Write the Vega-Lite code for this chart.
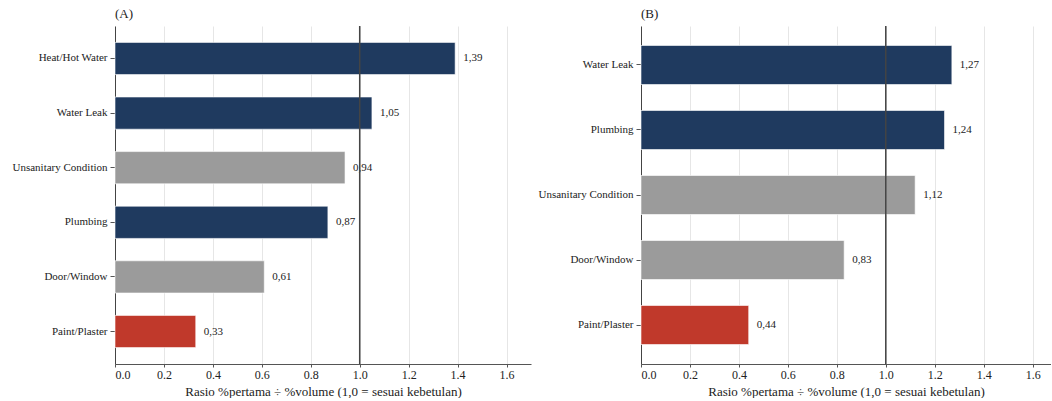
{
  "$schema": "https://vega.github.io/schema/vega-lite/v6.json",
  "padding": {"left": 11, "top": 8, "right": 0, "bottom": 0},
  "background": "white",
  "config": {
    "font": "Liberation Serif",
    "view": {"stroke": null},
    "text": {"font": "Liberation Serif"},
    "axis": {"labelFont": "Liberation Serif", "titleFont": "Liberation Serif", "labelFontSize": 11, "titleFontSize": 13, "labelColor": "#222222", "titleColor": "#222222", "domainColor": "#555555", "tickColor": "#555555", "titleFontWeight": "normal"},
    "title": {"font": "Liberation Serif", "fontSize": 13, "fontWeight": "normal", "anchor": "start", "frame": "bounds", "color": "#222222"},
    "concat": {"spacing": 6}
  },
  "datasets": {
    "a": [
      {"kategori": "Heat/Hot Water", "rasio": 1.39, "label": "1,39", "tipe": "tinggi"},
      {"kategori": "Water Leak", "rasio": 1.05, "label": "1,05", "tipe": "tinggi"},
      {"kategori": "Unsanitary Condition", "rasio": 0.94, "label": "0,94", "tipe": "netral"},
      {"kategori": "Plumbing", "rasio": 0.87, "label": "0,87", "tipe": "tinggi"},
      {"kategori": "Door/Window", "rasio": 0.61, "label": "0,61", "tipe": "netral"},
      {"kategori": "Paint/Plaster", "rasio": 0.33, "label": "0,33", "tipe": "rendah"}
    ],
    "b": [
      {"kategori": "Water Leak", "rasio": 1.27, "label": "1,27", "tipe": "tinggi"},
      {"kategori": "Plumbing", "rasio": 1.24, "label": "1,24", "tipe": "tinggi"},
      {"kategori": "Unsanitary Condition", "rasio": 1.12, "label": "1,12", "tipe": "netral"},
      {"kategori": "Door/Window", "rasio": 0.83, "label": "0,83", "tipe": "netral"},
      {"kategori": "Paint/Plaster", "rasio": 0.44, "label": "0,44", "tipe": "rendah"}
    ],
    "ref": [{"nilai": 1}]
  },
  "hconcat": [
    {
      "title": {"text": "(A)", "offset": 4, "frame": "group"},
      "width": 416,
      "height": 338,
      "layer": [
        {
          "data": {"name": "a"},
          "mark": {"type": "bar", "stroke": "white", "strokeWidth": 0.6},
          "encoding": {
            "y": {"field": "kategori", "type": "nominal", "sort": "-x", "title": null, "scale": {"paddingInner": 0.41, "paddingOuter": 0.3}, "axis": {"minExtent": 100, "maxExtent": 100, "tickSize": 5, "labelPadding": 3, "domainColor": "#444444"}},
            "x": {"field": "rasio", "type": "quantitative", "scale": {"domain": [0, 1.7], "nice": false}, "axis": {"values": [0, 0.2, 0.4, 0.6, 0.8, 1.0, 1.2, 1.4, 1.6], "format": ".1f", "grid": true, "gridColor": "#e6e6e6", "labelFontSize": 12, "title": "Rasio %pertama ÷ %volume (1,0 = sesuai kebetulan)", "tickSize": 3, "labelPadding": 2, "titlePadding": 5}},
            "color": {"field": "tipe", "type": "nominal", "scale": {"domain": ["tinggi", "netral", "rendah"], "range": ["#1f3a5f", "#9b9b9b", "#c0392b"]}, "legend": null}
          }
        },
        {
          "data": {"name": "a"},
          "mark": {"type": "text", "align": "left", "dx": 8, "fontSize": 11, "font": "Liberation Serif", "color": "#222222"},
          "encoding": {
            "y": {"field": "kategori", "type": "nominal", "sort": "-x"},
            "x": {"field": "rasio", "type": "quantitative"},
            "text": {"field": "label"}
          }
        },
        {
          "data": {"name": "ref"},
          "mark": {"type": "rule", "color": "#444444", "strokeWidth": 1.5},
          "encoding": {"x": {"field": "nilai", "type": "quantitative"}}
        }
      ]
    },
    {
      "title": {"text": "(B)", "offset": 4, "frame": "group"},
      "width": 410,
      "height": 338,
      "layer": [
        {
          "data": {"name": "b"},
          "mark": {"type": "bar", "stroke": "white", "strokeWidth": 0.6},
          "encoding": {
            "y": {"field": "kategori", "type": "nominal", "sort": "-x", "title": null, "scale": {"paddingInner": 0.4, "paddingOuter": 0.3}, "axis": {"minExtent": 100, "maxExtent": 100, "tickSize": 5, "labelPadding": 3, "domainColor": "#444444"}},
            "x": {"field": "rasio", "type": "quantitative", "scale": {"domain": [0, 1.675], "nice": false}, "axis": {"values": [0, 0.2, 0.4, 0.6, 0.8, 1.0, 1.2, 1.4, 1.6], "format": ".1f", "grid": true, "gridColor": "#e6e6e6", "labelFontSize": 12, "title": "Rasio %pertama ÷ %volume (1,0 = sesuai kebetulan)", "tickSize": 3, "labelPadding": 2, "titlePadding": 5}},
            "color": {"field": "tipe", "type": "nominal", "scale": {"domain": ["tinggi", "netral", "rendah"], "range": ["#1f3a5f", "#9b9b9b", "#c0392b"]}, "legend": null}
          }
        },
        {
          "data": {"name": "b"},
          "mark": {"type": "text", "align": "left", "dx": 8, "fontSize": 11, "font": "Liberation Serif", "color": "#222222"},
          "encoding": {
            "y": {"field": "kategori", "type": "nominal", "sort": "-x"},
            "x": {"field": "rasio", "type": "quantitative"},
            "text": {"field": "label"}
          }
        },
        {
          "data": {"name": "ref"},
          "mark": {"type": "rule", "color": "#444444", "strokeWidth": 1.5},
          "encoding": {"x": {"field": "nilai", "type": "quantitative"}}
        }
      ]
    }
  ],
  "resolve": {"scale": {"color": "shared"}}
}
